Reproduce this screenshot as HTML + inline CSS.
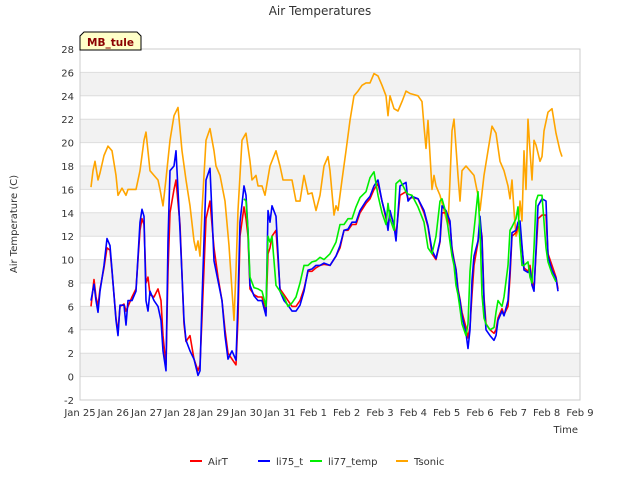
<!DOCTYPE html>
<html><head><meta charset="utf-8"><style>
body{margin:0;background:#fff;font-family:"DejaVu Sans",sans-serif;}
svg text{font-family:"DejaVu Sans","Liberation Sans",sans-serif;}
</style></head><body>
<svg id="chart" width="640" height="480" xmlns="http://www.w3.org/2000/svg">
<rect width="640" height="480" fill="#fff"/>
<g id="bands"></g>
<g id="grid"></g>
<rect x="80" y="49" width="500" height="351" fill="none" stroke="#ccc"/>
<g id="series"></g>
<g id="yticks"></g>
<g id="xticks"></g>
<text x="320" y="15" text-anchor="middle" font-size="12" fill="#333">Air Temperatures</text>
<text x="17" y="224" text-anchor="middle" font-size="10" fill="#333" transform="rotate(-90 17 224)">Air Temperature (C)</text>
<text x="578" y="433" text-anchor="end" font-size="10" fill="#333">Time</text>
<g>
<path d="M80,50 L80,36 L84,32 L137,32 L141,36 L141,50 Z" fill="#ffffc8" stroke="#000" stroke-width="1"/>
<text x="110.5" y="46" text-anchor="middle" font-size="10.5" font-weight="bold" fill="#8b0000">MB_tule</text>
</g>
<g id="legend"></g>
</svg>
<script>
const yTicks=[-2,0,2,4,6,8,10,12,14,16,18,20,22,24,26,28];
const xTickLabels=["Jan 25","Jan 26","Jan 27","Jan 28","Jan 29","Jan 30","Jan 31","Feb 1","Feb 2","Feb 3","Feb 4","Feb 5","Feb 6","Feb 7","Feb 8","Feb 9"];
const sensorTimes=[.33,.42,.48,.54,.6,.72,.81,.9,.96,1.08,1.14,1.2,1.32,1.38,1.44,1.56,1.68,1.8,1.86,1.92,1.98,2.04,2.1,2.22,2.34,2.43,2.49,2.58,2.64,2.7,2.82,2.88,3.0,3.12,3.18,3.3,3.42,3.54,3.6,3.66,3.78,3.9,4.02,4.14,4.26,4.35,4.44,4.56,4.68,4.74,4.8,4.92,4.98,5.04,5.1,5.22,5.34,5.46,5.58,5.64,5.7,5.76,5.88,6.0,6.12,6.24,6.36,6.48,6.6,6.72,6.84,6.96,7.08,7.2,7.32,7.5,7.68,7.8,7.92,8.04,8.16,8.28,8.4,8.58,8.7,8.82,8.94,9.06,9.18,9.24,9.3,9.42,9.48,9.6,9.78,9.84,9.96,10.14,10.32,10.44,10.56,10.68,10.8,10.86,10.98,11.1,11.16,11.22,11.28,11.34,11.4,11.46,11.58,11.64,11.7,11.76,11.82,11.94,12.0,12.06,12.12,12.18,12.3,12.42,12.48,12.54,12.66,12.72,12.84,12.9,12.96,13.08,13.14,13.2,13.26,13.32,13.44,13.5,13.56,13.62,13.68,13.74,13.86,13.98,14.04,14.16,14.28,14.34];
const airT=[6.0,8.3,6.8,6.0,7.5,9.3,11.0,10.8,9.0,5.0,3.8,6.0,6.2,5.6,6.0,6.8,7.5,12.5,13.5,13.0,8.0,8.5,7.0,6.8,7.5,6.5,3.5,1.0,9.0,14.0,16.0,16.8,13.0,4.5,3.0,3.5,1.5,0.5,1.0,5.0,13.5,15.0,11.0,8.5,6.5,4.0,2.0,1.5,1.0,5.0,12.0,14.5,13.5,12.0,7.5,7.0,6.8,6.8,5.5,10.5,11.0,12.0,12.5,7.5,7.0,6.5,6.0,6.0,6.5,7.5,9.0,9.0,9.3,9.5,9.6,9.5,10.3,11.0,12.5,12.5,13.0,13.0,14.0,14.8,15.2,16.0,16.5,15.0,13.5,12.8,14.0,13.0,12.0,15.5,15.8,15.2,15.3,15.2,14.0,12.8,10.5,10.0,11.5,14.0,14.0,13.0,11.0,10.0,9.2,7.5,6.6,5.5,4.2,3.3,4.3,7.0,9.5,11.5,13.0,12.0,6.8,4.5,4.0,3.7,4.0,5.0,5.8,5.3,6.0,8.5,12.0,12.3,12.8,12.8,11.0,9.3,9.0,9.5,8.2,7.5,10.5,13.5,13.8,13.8,10.5,9.5,8.5,7.5];
const li75=[6.5,7.9,6.5,5.5,7.3,9.5,11.8,11.2,9.1,4.8,3.5,6.1,6.1,4.4,6.5,6.5,7.3,13.2,14.3,13.7,6.5,5.6,7.3,6.5,6.0,4.8,2.2,0.5,11.6,17.6,18.0,19.3,12.5,4.8,3.1,2.2,1.5,0.1,0.5,6.5,16.8,17.8,9.9,8.2,6.5,3.5,1.5,2.2,1.4,6.5,13.2,16.3,15.5,12.5,7.8,6.9,6.5,6.5,5.2,14.2,13.2,14.6,13.7,7.3,6.5,6.1,5.6,5.6,6.1,7.3,9.1,9.2,9.5,9.5,9.7,9.5,10.3,11.2,12.5,12.6,13.2,13.2,14.2,15.0,15.4,16.3,16.8,15.0,13.7,12.5,14.2,12.9,11.6,16.3,16.6,15.0,15.4,15.2,14.2,12.9,10.8,10.1,11.6,14.6,14.2,13.3,10.8,9.9,9.1,7.3,6.5,5.2,3.7,2.4,4.0,8.2,10.3,11.6,13.7,11.6,6.5,4.0,3.5,3.1,3.5,4.8,5.6,5.2,6.5,9.1,12.3,12.5,13.2,13.3,11.2,9.1,8.9,9.2,7.8,7.3,10.8,14.6,15.2,15.0,10.3,9.1,8.4,7.3];
const li77Start=51;
const li77=[15.2,15.0,12.5,8.5,7.6,7.5,7.3,6.0,12.0,11.5,12.0,7.8,7.3,6.8,6.0,6.3,6.8,8.0,9.5,9.5,9.8,9.9,10.2,10.0,10.5,11.5,13.0,13.0,13.5,13.5,14.5,15.3,15.8,17.0,17.5,15.5,14.0,13.0,14.8,13.5,12.5,16.5,16.8,15.8,15.6,15.5,14.5,13.2,11.0,10.5,12.0,15.0,15.2,14.0,11.5,10.3,9.5,7.8,7.0,5.8,4.5,3.5,4.5,9.0,11.0,12.5,15.8,12.5,7.0,5.0,4.5,4.0,4.2,5.5,6.5,6.0,6.8,9.5,12.5,12.8,13.5,14.5,11.5,9.5,9.5,9.8,8.5,8.0,11.0,15.0,15.5,15.5,11.0,9.8,8.8,8.1];
const tsonicTimes=[.33,.39,.45,.54,.6,.72,.84,.96,1.08,1.14,1.26,1.38,1.44,1.56,1.68,1.8,1.92,1.98,2.1,2.22,2.34,2.4,2.49,2.58,2.7,2.82,2.94,3.06,3.18,3.3,3.42,3.48,3.54,3.6,3.66,3.78,3.9,4.02,4.08,4.2,4.35,4.47,4.62,4.68,4.74,4.86,4.98,5.1,5.16,5.28,5.34,5.46,5.55,5.7,5.88,6.0,6.09,6.24,6.36,6.48,6.6,6.72,6.84,6.96,7.08,7.2,7.32,7.44,7.5,7.62,7.68,7.74,7.86,7.98,8.1,8.22,8.34,8.46,8.58,8.7,8.82,8.94,9.06,9.18,9.24,9.3,9.42,9.54,9.66,9.78,9.9,10.02,10.14,10.26,10.32,10.38,10.44,10.56,10.62,10.68,10.8,10.92,11.04,11.1,11.16,11.22,11.34,11.4,11.46,11.58,11.7,11.82,11.94,12.0,12.12,12.24,12.36,12.48,12.6,12.72,12.84,12.9,12.96,13.02,13.08,13.14,13.2,13.26,13.32,13.38,13.44,13.5,13.56,13.62,13.68,13.8,13.86,13.92,14.04,14.16,14.28,14.4,14.46];
const tsonic=[16.2,17.6,18.4,16.8,17.4,18.9,19.7,19.3,17.2,15.5,16.1,15.5,16,16,16,17.6,20.2,20.9,17.6,17.2,16.8,16,14.6,16.9,20.2,22.3,23,19.3,16.8,14.6,11.6,10.8,11.6,10.3,14.2,20.2,21.2,19.3,18.0,17.2,15,11.2,4.8,9.1,14.2,20.2,20.8,18.4,16.8,17.2,16.3,16.3,15.5,18,19.3,18,16.8,16.8,16.8,15,15,17.2,15.6,15.7,14.2,15.5,18,18.8,17.6,13.8,14.6,14.2,16.8,19.3,21.9,24,24.4,24.9,25.1,25.1,25.9,25.7,24.9,24,22.3,24,22.9,22.7,23.5,24.4,24.2,24.1,24,23.5,21.4,19.5,21.9,16,17.2,16.3,15.5,14.2,12.9,16.8,21,22,17.2,15,17.6,18,17.6,17.2,15.5,14.2,17.2,19.3,21.4,20.8,18.4,17.6,16.3,15.2,16.8,14.2,12,12.5,15,13.3,19.3,16,22,19.3,16.8,20.2,19.8,18.4,18.8,21,22.6,22.9,20.8,19.3,18.8];

const NS='http://www.w3.org/2000/svg';
const X0=80,X1=580,Y0=400,Y1=49,DMAX=15,VMIN=-2,VMAX=28;
function xs(d){return X0+(X1-X0)*d/DMAX;}
function ys(v){return Y0-(Y0-Y1)*(v-VMIN)/(VMAX-VMIN);}
function mk(tag,attrs,parent){const e=document.createElementNS(NS,tag);for(const k in attrs)e.setAttribute(k,attrs[k]);parent.appendChild(e);return e;}
const bands=document.getElementById('bands'),grid=document.getElementById('grid');
for(let i=0;i<yTicks.length-1;i++){
  const lo=yTicks[i];
  if(lo>=0&&lo<=24&&(lo/2)%2===0){
    const r=mk('rect',{x:X0,y:ys(lo+2),width:X1-X0,height:ys(lo)-ys(lo+2),fill:'#f2f2f2'},bands);
    
    
  }
}
const yg=document.getElementById('yticks');
yTicks.forEach(v=>{
  const l=mk('line',{x1:X0,x2:X1,y1:ys(v),y2:ys(v),stroke:'#ddd'},grid);
  
  
  const t=mk('text',{x:X0-6,y:ys(v)+4,'text-anchor':'end','font-size':10,fill:'#333'},yg);
  
  
  t.textContent=v;
});
const xg=document.getElementById('xticks');
xTickLabels.forEach((s,i)=>{
  const t=mk('text',{x:xs(i),y:416,'text-anchor':'middle','font-size':10,fill:'#333'},xg);
  
  
  t.textContent=s;
});
const sg=document.getElementById('series');
function line(times,vals,color,name){
  const n=Math.min(times.length,vals.length);let d='';
  for(let i=0;i<n;i++)d+=(i?'L':'M')+xs(times[i]).toFixed(1)+','+ys(vals[i]).toFixed(1);
  const p=mk('path',{d:d,fill:'none',stroke:color,'stroke-width':1.6,'stroke-linejoin':'round'},sg);
  
  
}
line(tsonicTimes,tsonic,'#ffa500','tsonic-line');
line(sensorTimes,airT,'#ff0000','airt-line');
line(sensorTimes,li75,'#0000ff','li75-t-line');
line(sensorTimes.slice(li77Start),li77,'#00ee00','li77-temp-line');
const lg=document.getElementById('legend');
[['AirT','#ff0000',190],['li75_t','#0000ff',258],['li77_temp','#00ee00',310],['Tsonic','#ffa500',396]].forEach(([lab,c,x])=>{
  const g=mk('g',{},lg);
  
  
  mk('line',{x1:x,x2:x+12,y1:461,y2:461,stroke:c,'stroke-width':2},g);
  const t=mk('text',{x:x+18,y:465,'font-size':10,fill:'#333'},g);
  t.textContent=lab;
});
</script>
</body></html>
